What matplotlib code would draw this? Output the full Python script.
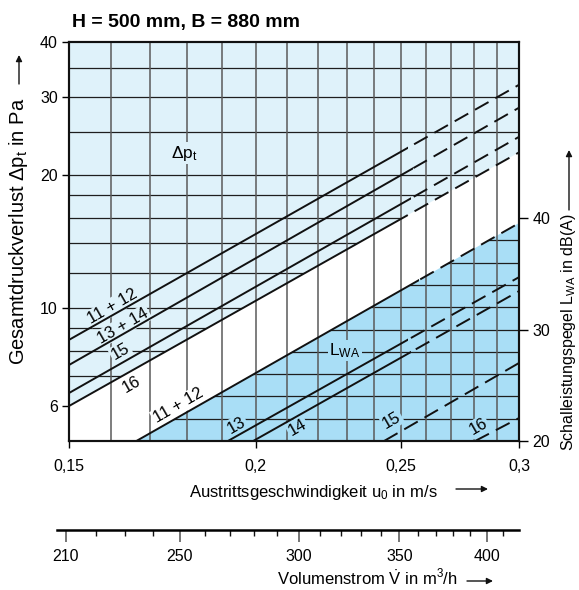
import matplotlib
matplotlib.use("Agg")
import matplotlib.pyplot as plt
from matplotlib.patches import Polygon, Rectangle, FancyArrowPatch
from matplotlib.transforms import blended_transform_factory
from matplotlib.ticker import NullLocator, NullFormatter, FixedLocator

FONT = 'Liberation Sans'
plt.rcParams['font.family'] = [FONT, 'DejaVu Sans']
plt.rcParams['mathtext.fontset'] = 'custom'
plt.rcParams['mathtext.rm'] = FONT
plt.rcParams['mathtext.it'] = FONT + ':italic'
plt.rcParams['mathtext.bf'] = FONT + ':bold'

# ---------------- data ----------------
u_range = [0.15, 0.3]
dp_range = [5, 40]
db_range = [20, 55.8]
v_range = [207.2, 420.3]

u_ticks = [0.15, 0.2, 0.25, 0.3]
u_ticklabels = ["0,15", "0,2", "0,25", "0,3"]
u_grid = [0.16, 0.17, 0.18, 0.19, 0.2, 0.21, 0.22, 0.23, 0.24, 0.25,
          0.26, 0.27, 0.28, 0.29]
dp_ticks = [6, 10, 20, 30, 40]
dp_grid = [6, 7, 8, 9, 10, 12, 14, 16, 18, 20, 25, 30, 35]
db_ticks = [20, 30, 40]
db_grid = [22, 24, 26, 28, 30, 32, 34, 36, 38]
v_major = [210, 250, 300, 350, 400]
v_minor = [220, 230, 240, 260, 270, 280, 290, 310, 320, 330, 340,
           360, 370, 380, 390, 410]

# pressure loss lines (left axis), values at u = 0.15 and u = 0.3
dp_names = ["11 + 12", "13 + 14", "15", "16"]
dp_at_start = [8.47, 7.43, 6.42, 6.0]
dp_at_end = [32.0, 28.4, 24.4, 22.5]
dp_solid_to = [0.253, 0.255, 0.254, 0.252]
dp_label_u = [0.1604, 0.1631, 0.1624, 0.1652]
dp_label_p = [10.08, 9.11, 7.96, 6.70]

# sound power lines (right axis): u where L_WA = 20 dB, L_WA at u = 0.3
lwa_names = ["11 + 12", "13", "14", "15", "16"]
lwa_u_at_20 = [0.1664, 0.1916, 0.1992, 0.2437, 0.2804]
lwa_at_end = [39.55, 34.7, 33.45, 27.0, 22.06]
lwa_solid_to = [0.257, 0.253, 0.254, None, None]
lwa_label_u = [0.1775, 0.1942, 0.2132, 0.2466, 0.2818]
lwa_label_db = [23.17, 21.43, 21.23, 21.88, 21.28]

# ---------------- style ----------------
LIGHT = '#dff2fa'
DARK = '#a9def6'
W, H = 579, 590

fig = plt.figure(figsize=(W / 100, H / 100), dpi=100)
ax = fig.add_axes([69 / W, 1 - 441 / H, 450 / W, 399 / H])
ax.set_xscale('log')
ax.set_yscale('log')
ax.set_xlim(*u_range)
ax.set_ylim(*dp_range)
ax2 = ax.twinx()
ax2.set_ylim(*db_range)

# regions
light_poly = Polygon([[u_range[0], dp_at_start[3]], [u_range[1], dp_at_end[3]],
                      [u_range[1], dp_range[1]], [u_range[0], dp_range[1]]],
                     closed=True, transform=ax.transData, fc=LIGHT, ec='none',
                     zorder=0.5)
ax.add_patch(light_poly)
dark_poly = Polygon([[lwa_u_at_20[0], db_range[0]], [u_range[1], db_range[0]],
                     [u_range[1], lwa_at_end[0]]],
                    closed=True, transform=ax2.transData, fc=DARK, ec='none',
                    zorder=0.5)
ax.add_patch(dark_poly)

# grid
for p in dp_grid:
    ln, = ax.plot(u_range, [p, p], color='#1e1e1e', lw=0.9, zorder=1)
    ln.set_clip_path(light_poly)
for d in db_grid:
    ln, = ax.plot(u_range, [d, d], color='#1e1e1e', lw=0.9, zorder=1,
                  transform=ax2.transData)
    ln.set_clip_path(dark_poly)
for u in u_grid:
    ax.axvline(u, color='#5a5a5a', lw=1.1, zorder=1)

xblend = blended_transform_factory(ax.transData, ax.transAxes)
DASH = (0, (8, 4))


def draw_line(xs, ys, solid_to, trans):
    if solid_to is not None:
        s, = ax.plot(xs, ys, color='#111111', lw=1.4, zorder=3,
                     transform=trans, solid_capstyle='butt')
        s.set_clip_path(Rectangle((u_range[0], 0), solid_to - u_range[0], 1,
                                  transform=xblend))
        start = solid_to
    else:
        start = u_range[0]
    d, = ax.plot(xs, ys, color='#111111', lw=1.4, zorder=3, transform=trans,
                 linestyle=DASH, dash_capstyle='butt')
    d.set_clip_path(Rectangle((start, 0), u_range[1] - start, 1,
                              transform=xblend))


for i in range(len(dp_names)):
    draw_line(u_range, [dp_at_start[i], dp_at_end[i]], dp_solid_to[i],
              ax.transData)
for i in range(len(lwa_names)):
    draw_line([lwa_u_at_20[i], u_range[1]], [db_range[0], lwa_at_end[i]],
              lwa_solid_to[i], ax2.transData)


# labels
def label(x, y, s, bg, trans, rot=30, size=12):
    ax.text(x, y, s, rotation=rot, rotation_mode='anchor', ha='center',
            va='center', fontsize=size, transform=trans, zorder=2,
            bbox=dict(boxstyle='square,pad=0.08', fc=bg, ec='none'))


dp_bg = [LIGHT, LIGHT, LIGHT, 'white']
for i, name in enumerate(dp_names):
    label(dp_label_u[i], dp_label_p[i], name, dp_bg[i], ax.transData)
lwa_bg = ['white', DARK, DARK, DARK, DARK]
for i, name in enumerate(lwa_names):
    label(lwa_label_u[i], lwa_label_db[i], name, lwa_bg[i], ax2.transData)
label(0.1793, 22.4, r'Δp$_{\mathrm{t}}$', LIGHT, ax.transData, rot=0, size=12.5)
label(0.2295, 28.1, r'L$_{\mathrm{WA}}$', DARK, ax2.transData, rot=0, size=12.5)

# ticks
ax.set_xticks(u_ticks)
ax.set_xticklabels(u_ticklabels)
ax.xaxis.set_minor_locator(NullLocator())
ax.set_yticks(dp_ticks)
ax.set_yticklabels([str(t) for t in dp_ticks])
ax.yaxis.set_minor_locator(NullLocator())
ax.tick_params(axis='x', direction='out', length=5, width=1, labelsize=11.5,
               pad=8)
ax.tick_params(axis='y', direction='out', length=5, width=1, labelsize=11.5,
               pad=3, right=False)
ax.yaxis.get_major_ticks()[-1].tick1line.set_color('#56c2ea')
ax2.set_yticks(db_ticks)
ax2.set_yticklabels([str(t) for t in db_ticks])
ax2.yaxis.set_minor_locator(NullLocator())
ax2.tick_params(axis='y', direction='out', length=6.5, width=1, labelsize=11.5,
                pad=3)
for a in (ax, ax2):
    for sp in a.spines.values():
        sp.set_linewidth(1.5)
        sp.set_color('#111111')
ax2.set_zorder(ax.get_zorder() + 1)
ax2.patch.set_visible(False)

# volume flow scale
axv = fig.add_axes([57 / W, 1 - 530 / H, 462 / W, 0.0001])
axv.set_xscale('log')
axv.set_xlim(*v_range)
axv.patch.set_visible(False)
for k in ('left', 'right', 'top'):
    axv.spines[k].set_visible(False)
axv.spines['bottom'].set_linewidth(1.8)
axv.set_yticks([])
axv.set_xticks(v_major)
axv.set_xticklabels([str(v) for v in v_major])
axv.xaxis.set_minor_locator(FixedLocator(v_minor))
axv.xaxis.set_minor_formatter(NullFormatter())
axv.tick_params(axis='x', which='major', direction='out', length=8.5,
                width=1.3, color='#6a6a6a', labelsize=11.5, pad=5)
axv.tick_params(axis='x', which='minor', direction='out', length=4.3,
                width=1, color='#111111')

# texts
fig.text(72 / W, 1 - 22 / H, "H = 500 mm, B = 880 mm", fontsize=14,
         fontweight='bold', ha='left', va='center')
fig.text(313 / W, 1 - 492 / H, r"Austrittsgeschwindigkeit u$_0$ in m/s",
         fontsize=12, ha='center', va='center')
fig.text(367 / W, 1 - 578 / H,
         r"Volumenstrom $\dot{\mathrm{V}}$ in m$^{3}$/h",
         fontsize=12, ha='center', va='center')
fig.text(19 / W, 1 - 231 / H, r"Gesamtdruckverlust Δp$_{\mathrm{t}}$ in Pa",
         fontsize=14.5, ha='center', va='center', rotation=90)
fig.text(568 / W, 1 - 332 / H,
         r"Schalleistungspegel L$_{\mathrm{WA}}$ in dB(A)",
         fontsize=11.5, ha='center', va='center', rotation=90)


def arrow(p0, p1):
    fig.add_artist(FancyArrowPatch((p0[0] / W, 1 - p0[1] / H),
                                   (p1[0] / W, 1 - p1[1] / H),
                                   transform=fig.transFigure,
                                   arrowstyle='-|>', mutation_scale=9,
                                   lw=1.0, color='#111111',
                                   shrinkA=0, shrinkB=0))


arrow((456, 489), (488, 489))
arrow((467, 581), (493, 581))
arrow((19, 84), (19, 55))
arrow((569, 210), (569, 150))

ax.set_xlim(*u_range)
ax.set_ylim(*dp_range)
ax2.set_ylim(*db_range)

fig.savefig('out.png', dpi=100)
